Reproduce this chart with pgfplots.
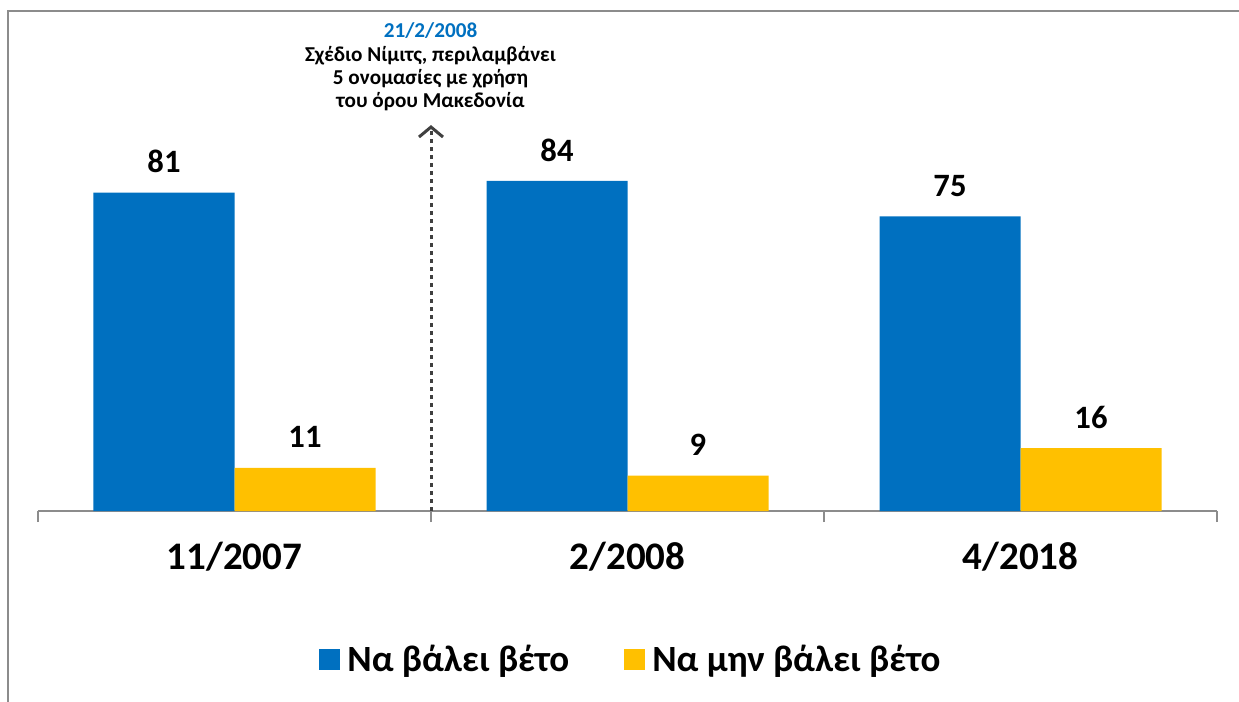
\documentclass[border=0pt]{standalone}
\usepackage{fontspec}
\setmainfont{Carlito}
\usepackage{pgfplots}
\pgfplotsset{compat=1.18}
\usetikzlibrary{arrows.meta}
\definecolor{cblue}{HTML}{0070C0}
\definecolor{cyellow}{HTML}{FFC000}
\definecolor{axgray}{HTML}{8C8C8C}
\definecolor{arrgray}{HTML}{404040}
\definecolor{dateblue}{HTML}{0070C0}
\begin{document}
\begin{tikzpicture}
\path[use as bounding box] (0,0) rectangle (619.5pt,-351pt);
\draw[axgray, line width=1pt] (4pt,-400pt) -- (4pt,-5.5pt) -- (640pt,-5.5pt);
\begin{axis}[
  at={(19pt,-255.5pt)}, anchor=south west,
  scale only axis, width=589.5pt, height=196.5pt,
  xmin=-0.5, xmax=2.5, ymin=0, ymax=100,
  axis x line=bottom, axis y line=none,
  x axis line style={-, axgray, line width=1pt},
  xtick={0,1,2}, xticklabels={11/2007,2/2008,4/2018},
  major tick length=0pt,
  minor xtick={-0.5,0.5,1.5,2.5},
  minor tick length=5.5pt, tick align=outside,
  minor tick style={axgray, line width=1pt},
  xticklabel style={font=\fontsize{19.5}{24}\selectfont\bfseries, yshift=-12pt},
  ybar=0pt, bar width=70.5pt,
  nodes near coords,
  nodes near coords style={font=\fontsize{16.3}{19}\selectfont\bfseries, anchor=base, yshift=9.9pt, inner sep=0pt},
  /pgf/number format/assume math mode=true,
  clip=false,
  legend columns=2,
  legend style={at={(0.505,-0.379)}, anchor=center, draw=none, fill=none, font=\fontsize{18.5}{22}\selectfont\bfseries, /tikz/every even column/.append style={column sep=24pt}, nodes={inner xsep=3.5pt}},
  legend image code/.code={\fill[#1,draw=none] (0pt,-5.25pt) rectangle (10.5pt,5.25pt);},
]
\addplot[fill=cblue, draw=none] coordinates {(0,81) (1,84) (2,75)};
\addplot[fill=cyellow, draw=none] coordinates {(0,11) (1,9) (2,16)};
\legend{Να βάλει βέτο, Να μην βάλει βέτο}
\draw[arrgray, line width=1.5pt, dash pattern=on 2pt off 2pt, -{Straight Barb[length=5pt,width=12pt]}] (axis cs:0.5,0) -- (axis cs:0.5,98.2);
\end{axis}
\node[anchor=base, inner sep=0pt, text=dateblue, font=\fontsize{10.6}{12}\selectfont\bfseries] at (215.25pt,-18.65pt) {21/2/2008};
\node[anchor=base, inner sep=0pt, font=\fontsize{10.6}{12}\selectfont\bfseries] at (215.25pt,-30.5pt) {Σχέδιο Νίμιτς, περιλαμβάνει};
\node[anchor=base, inner sep=0pt, font=\fontsize{10.6}{12}\selectfont\bfseries] at (215.25pt,-42pt) {5 ονομασίες με χρήση};
\node[anchor=base, inner sep=0pt, font=\fontsize{10.6}{12}\selectfont\bfseries] at (215.25pt,-53.65pt) {του όρου Μακεδονία};
\end{tikzpicture}
\end{document}
